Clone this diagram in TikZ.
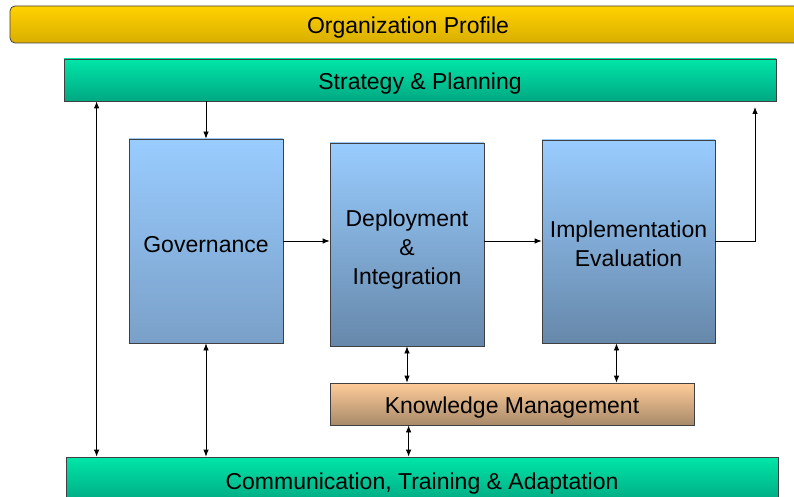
\documentclass[tikz,border=0pt]{standalone}
\usepackage{fontspec}
\setmainfont{Liberation Sans}
\usepackage{xcolor}
\usetikzlibrary{arrows.meta}

\definecolor{orgtop}{HTML}{FFD200}
\definecolor{orgbot}{HTML}{D9AE00}
\definecolor{strtop}{HTML}{00E6A8}
\definecolor{strbot}{HTML}{00A882}
\definecolor{blutop}{HTML}{99CCFF}
\definecolor{blubot}{HTML}{7AA0C8}
\definecolor{bludark}{HTML}{6688AA}
\definecolor{kmtop}{HTML}{FFCC99}
\definecolor{kmbot}{HTML}{A88A6A}

\begin{document}
\begin{tikzpicture}[x=1pt, y=-1pt,
	box/.style={draw=black!75, line width=0.8pt, inner sep=0pt, align=center,
		font=\fontsize{23}{29}\selectfont, execute at begin node={\rule{0pt}{23pt}}},
	bar/.style={box, top color=strtop, bottom color=strbot, minimum height=42pt},
	stage/.style={box, top color=blutop, bottom color=bludark, minimum height=203pt},
	link/.style={-{Latex[length=7pt,width=5.5pt]}, line width=0.8pt},
	both/.style={{Latex[length=7pt,width=5.5pt]}-{Latex[length=7pt,width=5.5pt]}, line width=0.8pt}]
	\clip (0,0) rectangle (794,497);
	\fill[white] (0,0) rectangle (794,497);
	% top bars
	\node[box, rounded corners=5pt, top color=orgtop, bottom color=orgbot,
		minimum width=796pt, minimum height=37pt] (org) at (408,24.5) {Organization Profile};
	\node[bar, minimum width=712pt] (strat) at (420,80) {Strategy \& Planning};
	% stages
	\node[stage, minimum width=154pt, bottom color=blubot, minimum height=204pt] (gov) at (206,241) {Governance};
	\node[stage, minimum width=154pt] (dep) at (407,244.5) {\rule{0pt}{26pt}Deployment\\\&\\Integration};
	\node[stage, minimum width=173pt] (impl) at (628.5,241.5) {\rule{0pt}{21pt}Implementation\\Evaluation};
	% bottom
	\node[box, top color=kmtop, bottom color=kmbot, minimum width=364pt, minimum height=42pt] (km) at (512,404) {Knowledge Management};
	\node[bar, minimum width=712pt, minimum height=46pt] (comm) at (422,480) {Communication, Training \& Adaptation};
	\coordinate (fb) at (755,107);
	% connectors
	\draw[link] (gov.north |- strat.south) -- (gov.north);
	\draw[both] ([xshift=33pt]strat.south west) -- ([xshift=33pt]strat.south west |- comm.north);
	\draw[both] (gov.south) -- (gov.south |- comm.north);
	\draw[link] (gov.east) -- (gov.east -| dep.west);
	\draw[link] (dep.east |- gov.east) -- (gov.east -| impl.west);
	\draw[link] (impl.east) -| (fb);
	\draw[both] (dep.south) -- (dep.south |- km.north);
	\draw[both] ([xshift=-12pt]impl.south) -- ([xshift=-12pt]impl.south |- km.north);
	\draw[both] ([xshift=79pt]km.south west) -- ([xshift=79pt]km.south west |- comm.north);
\end{tikzpicture}
\end{document}
